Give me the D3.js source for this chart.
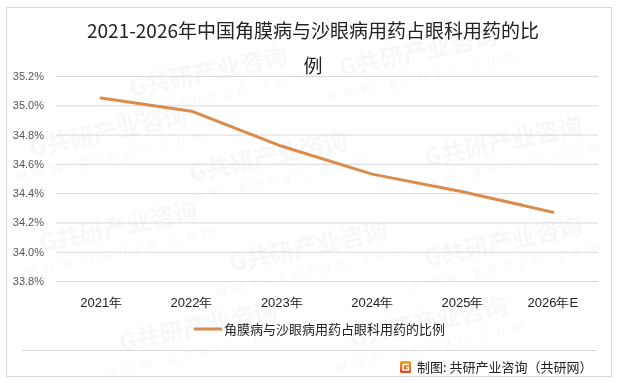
<!DOCTYPE html>
<html>
<head>
<meta charset="utf-8">
<script src="https://cdn.jsdelivr.net/npm/d3@7"></script>
<style>
  body { margin: 0; background: #fff; }
  svg { display: block; font-family: "Noto Sans CJK SC", "Microsoft YaHei", sans-serif; }
</style>
</head>
<body>
<svg width="618" height="383"></svg>
<script>
const years = ['2021年', '2022年', '2023年', '2024年', '2025年', '2026年E'];
const shares = [35.05, 34.96, 34.72, 34.53, 34.41, 34.27];
const yTicks = [33.8, 34.0, 34.2, 34.4, 34.6, 34.8, 35.0, 35.2];
const seriesName = '角膜病与沙眼病用药占眼科用药的比例';
const titleLines = ['2021-2026年中国角膜病与沙眼病用药占眼科用药的比', '例'];

const svg = d3.select('svg');
const color = '#db8b4b';

// outer frame
svg.append('rect')
  .attr('x', 6.5).attr('y', 7.5)
  .attr('width', 605).attr('height', 369)
  .attr('fill', '#fff').attr('stroke', '#d9d9d9');

// faint watermarks, kept inside the frame
const wm = svg.append('g').attr('fill', '#000').attr('opacity', 0.035)
  .attr('font-weight', 'bold');
[[210, 80], [420, 60], [505, 150], [270, 165], [110, 140], [310, 255], [505, 250], [120, 235], [200, 335], [430, 330]]
  .forEach(([x, y]) => {
    const g = wm.append('g').attr('transform', `translate(${x},${y}) rotate(-12)`);
    g.append('text').attr('text-anchor', 'middle').attr('font-size', 24).text('G共研产业咨询');
    g.append('text').attr('text-anchor', 'middle').attr('y', 20).attr('font-size', 14)
      .attr('letter-spacing', 7).attr('font-weight', 'normal').text('www.gonyn.com');
  });

// title
svg.append('g').selectAll('text')
  .data(titleLines)
  .join('text')
  .attr('x', 313).attr('y', (d, i) => 38 + i * 35)
  .attr('text-anchor', 'middle')
  .attr('font-size', 19)
  .attr('fill', '#222')
  .text(d => d);

const x = d3.scaleBand().domain(years).range([56, 598]);
const y = d3.scaleLinear().domain([33.8, 35.2]).range([281, 76]);

// gridlines + y labels
const yAxis = svg.append('g')
  .attr('transform', 'translate(56,0)')
  .call(d3.axisLeft(y).tickValues(yTicks).tickSize(-542)
    .tickFormat(d => d.toFixed(1) + '%'));
yAxis.select('.domain').remove();
yAxis.selectAll('.tick line').attr('stroke', '#d9d9d9');
yAxis.selectAll('.tick text')
  .attr('x', -12)
  .attr('font-size', 11)
  .attr('fill', '#555')
  .attr('font-family', 'Liberation Sans, Arial, sans-serif');

// x labels
const xAxis = svg.append('g')
  .attr('transform', 'translate(0,281)')
  .call(d3.axisBottom(x).tickSize(0));
xAxis.select('.domain').remove();
xAxis.selectAll('.tick text')
  .attr('dy', 0).attr('y', 26)
  .attr('font-size', 13)
  .attr('fill', '#222');

// line
const line = d3.line()
  .x((d, i) => x(years[i]) + x.bandwidth() / 2)
  .y(d => y(d));
svg.append('path')
  .datum(shares)
  .attr('d', line)
  .attr('fill', 'none')
  .attr('stroke', color)
  .attr('stroke-width', 3)
  .attr('stroke-linejoin', 'round')
  .attr('stroke-linecap', 'round');

// legend
const lg = svg.append('g').attr('transform', 'translate(194,329)');
lg.append('line').attr('x1', 0).attr('x2', 28)
  .attr('stroke', color).attr('stroke-width', 3);
lg.append('text').attr('x', 30).attr('y', 5)
  .attr('font-size', 13).attr('fill', '#222').text(seriesName);

// footer
svg.append('line')
  .attr('x1', 22).attr('x2', 597).attr('y1', 350.5).attr('y2', 350.5)
  .attr('stroke', '#d9d9d9');
const grad = svg.append('defs').append('linearGradient')
  .attr('id', 'logo').attr('x1', 0).attr('y1', 0).attr('x2', 0).attr('y2', 1);
grad.append('stop').attr('offset', '0%').attr('stop-color', '#f7a21b');
grad.append('stop').attr('offset', '100%').attr('stop-color', '#e8401c');
const logo = svg.append('g').attr('transform', 'translate(400,361)');
logo.append('rect').attr('width', 11).attr('height', 12).attr('rx', 1.5).attr('fill', 'url(#logo)');
logo.append('path').attr('d', 'M3,3.5 H9 M3,3.5 V9 H8.5 V6.5 H6')
  .attr('fill', 'none').attr('stroke', '#fff').attr('stroke-width', 1.6);
svg.append('text')
  .attr('x', 417).attr('y', 372)
  .attr('font-size', 13).attr('fill', '#222')
  .text('制图: 共研产业咨询（共研网）');
</script>
</body>
</html>
